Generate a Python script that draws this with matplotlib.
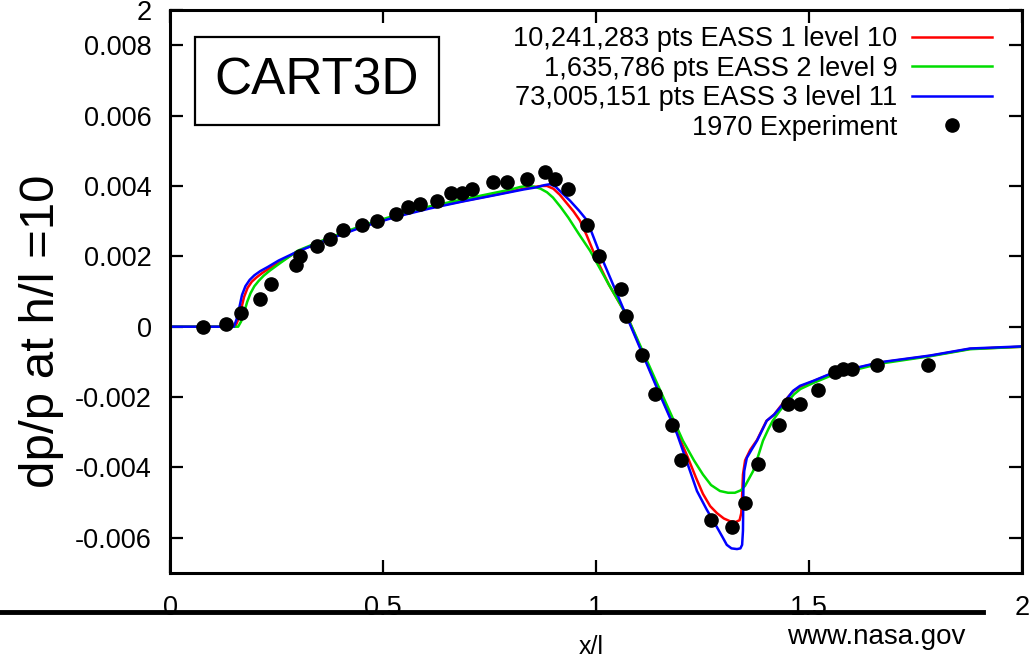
import matplotlib
matplotlib.use("Agg")
import matplotlib.pyplot as plt
from matplotlib.lines import Line2D

plt.rcParams['font.family'] = ['Liberation Sans', 'DejaVu Sans']

# CART3D runs (pressure signature at h/l = 10)
x_red = [0, 0.153, 0.16, 0.167, 0.174, 0.182, 0.192, 0.203, 0.217, 0.235, 0.26, 0.3,
         0.376, 0.453, 0.533, 0.61, 0.688, 0.768, 0.83, 0.855, 0.872, 0.885, 0.9,
         0.915, 0.932, 0.947, 0.962, 0.978, 0.993, 1.01, 1.03, 1.073, 1.143, 1.19,
         1.215, 1.235, 1.251, 1.268, 1.284, 1.3, 1.315, 1.328, 1.337, 1.341, 1.343,
         1.345, 1.35, 1.362, 1.378, 1.40, 1.418, 1.432, 1.448, 1.463, 1.48, 1.51,
         1.55, 1.667, 1.784, 1.878, 2.0]
y_red = [0, 0, 0.0002, 0.0005, 0.00085, 0.0011, 0.00128, 0.0014, 0.00153, 0.00167,
         0.00185, 0.00214, 0.00252, 0.00286, 0.00315, 0.00338, 0.00357, 0.00376,
         0.00392, 0.00397, 0.004, 0.004, 0.00392, 0.00375, 0.0035, 0.00328, 0.00302,
         0.0026, 0.00216, 0.0017, 0.0012, 0.0003, -0.0017, -0.0030, -0.0037, -0.0043,
         -0.00475, -0.0051, -0.0053, -0.00545, -0.00553, -0.00555, -0.0055, -0.0053,
         -0.0048, -0.0042, -0.0038, -0.0035, -0.00322, -0.00268, -0.0025, -0.00228,
         -0.00204, -0.00183, -0.0017, -0.00155, -0.00135, -0.00102, -0.00083, -0.00063,
         -0.00057]

x_green = [0, 0.16, 0.167, 0.174, 0.181, 0.189, 0.198, 0.208, 0.22, 0.235, 0.26, 0.3,
           0.376, 0.453, 0.533, 0.61, 0.688, 0.768, 0.8, 0.822, 0.838, 0.855, 0.87,
           0.885, 0.899, 0.917, 0.935, 0.96, 0.986, 1.03, 1.073, 1.143, 1.204, 1.23,
           1.251, 1.27, 1.291, 1.31, 1.326, 1.34, 1.35, 1.36, 1.369, 1.38, 1.392,
           1.405, 1.415, 1.432, 1.448, 1.465, 1.48, 1.51, 1.55, 1.667, 1.784, 1.878,
           2.0]
y_green = [0, 0, 0.00015, 0.0004, 0.0007, 0.00095, 0.00115, 0.0013, 0.00145, 0.0016,
           0.00182, 0.00216, 0.00254, 0.00288, 0.00318, 0.00342, 0.00362, 0.00382,
           0.0039, 0.00397, 0.004, 0.00398, 0.00392, 0.00382, 0.00367, 0.0034, 0.0031,
           0.00263, 0.00216, 0.0012, 0.0003, -0.0016, -0.00324, -0.0038, -0.0042,
           -0.0045, -0.00467, -0.00472, -0.00472, -0.00465, -0.00452, -0.0043, -0.0041,
           -0.0037, -0.00324, -0.0029, -0.00267, -0.00238, -0.00215, -0.00192, -0.00177,
           -0.0016, -0.0014, -0.00105, -0.00084, -0.00064, -0.00057]

x_blue = [0, 0.15, 0.156, 0.162, 0.169, 0.177, 0.187, 0.198, 0.212, 0.23, 0.255, 0.3,
          0.376, 0.453, 0.533, 0.61, 0.688, 0.768, 0.83, 0.86, 0.878, 0.892, 0.905,
          0.92, 0.939, 0.96, 0.979, 1.009, 1.04, 1.073, 1.143, 1.19, 1.215, 1.237,
          1.26, 1.284, 1.297, 1.307, 1.318, 1.331, 1.339, 1.343, 1.345, 1.346, 1.348,
          1.354, 1.365, 1.378, 1.401, 1.418, 1.432, 1.448, 1.463, 1.479, 1.51, 1.55,
          1.667, 1.784, 1.878, 2.0]
y_blue = [0, 0, 0.0002, 0.0005, 0.0009, 0.00115, 0.00133, 0.00146, 0.00158, 0.0017,
          0.00188, 0.00214, 0.0025, 0.00284, 0.00313, 0.00336, 0.00356, 0.00375, 0.0039,
          0.00396, 0.00402, 0.00405, 0.00398, 0.0038, 0.00358, 0.0033, 0.00302, 0.00208,
          0.0012, 0.00026, -0.00174, -0.00304, -0.0039, -0.00467, -0.0052, -0.0057,
          -0.00598, -0.0062, -0.0063, -0.00632, -0.0063, -0.0062, -0.0058, -0.0046,
          -0.0041, -0.00373, -0.0035, -0.00324, -0.00267, -0.0025, -0.0023, -0.00205,
          -0.00182, -0.00168, -0.00154, -0.00134, -0.00101, -0.00082, -0.00062,
          -0.00056]

# 1970 wind tunnel measurements
x_exp = [0.077, 0.131, 0.167, 0.211, 0.237, 0.296, 0.305, 0.345, 0.376, 0.406, 0.451,
         0.486, 0.531, 0.559, 0.587, 0.627, 0.66, 0.685, 0.709, 0.758, 0.791, 0.838,
         0.880, 0.904, 0.934, 0.979, 1.007, 1.059, 1.07, 1.108, 1.138, 1.178, 1.2,
         1.27, 1.319, 1.35, 1.38, 1.43, 1.45, 1.48, 1.52, 1.56, 1.58, 1.60, 1.66, 1.78]
y_exp = [0, 0.00009, 0.0004, 0.0008, 0.0012, 0.00174, 0.002, 0.0023, 0.0025, 0.00276,
         0.0029, 0.0030, 0.0032, 0.0034, 0.0035, 0.00356, 0.0038, 0.0038, 0.0039,
         0.0041, 0.0041, 0.0042, 0.0044, 0.0042, 0.0039, 0.0029, 0.002, 0.00108,
         0.0003, -0.0008, -0.0019, -0.0028, -0.0038, -0.0055, -0.0057, -0.005,
         -0.0039, -0.0028, -0.0022, -0.0022, -0.0018, -0.0013, -0.0012, -0.0012,
         -0.0011, -0.0011]

labels = ['10,241,283 pts EASS 1 level 10',
          '1,635,786 pts EASS 2 level 9',
          '73,005,151 pts EASS 3 level 11',
          '1970 Experiment']

xticks = [0, 0.5, 1, 1.5, 2]
xtick_labels = ['0', '0.5', '1', '1.5', '2']
yticks = [-0.006, -0.004, -0.002, 0, 0.002, 0.004, 0.006, 0.008, 0.009]
ytick_labels = ['-0.006', '-0.004', '-0.002', '0', '0.002', '0.004', '0.006', '0.008', '2']

fs = 19.5

fig = plt.figure(figsize=(10.33, 6.59), dpi=100)
ax = fig.add_axes([170 / 1033, 1 - 573 / 659, 852 / 1033, 563 / 659])

l1, = ax.plot(x_red, y_red, color='#ff0000', lw=1.8)
l2, = ax.plot(x_green, y_green, color='#00dd00', lw=1.8)
l3, = ax.plot(x_blue, y_blue, color='#0000ff', lw=1.8)
pts, = ax.plot(x_exp, y_exp, 'o', color='black', ms=9.5, zorder=5)

ax.set_xlim(0, 2)
ax.set_ylim(-0.007, 0.009)
ax.set_xticks(xticks)
ax.set_xticklabels(xtick_labels)
ax.set_yticks(yticks)
ax.set_yticklabels(ytick_labels)
ax.tick_params(axis='both', direction='in', length=9.5, width=1.6,
               top=True, right=True, labelsize=fs)
ax.tick_params(axis='x', pad=15.5)
ax.tick_params(axis='y', pad=13)
for s in ax.spines.values():
    s.set_linewidth(2.2)

fig.text(42 / 1033, 1 - 331 / 659, 'dp/p at h/l =10', rotation=90,
         ha='center', va='center', fontsize=35.5)

ax.text((317 - 170) / 852, (573 - 81) / 563, 'CART3D', transform=ax.transAxes,
        ha='center', va='center', fontsize=37,
        bbox=dict(boxstyle='square,pad=0.38', fc='white', ec='black', lw=1.6))

leg = ax.legend([l1, l2, l3, pts], labels, loc='upper right',
                bbox_to_anchor=(992 / 1033, 1 - 26 / 659),
                bbox_transform=fig.transFigure, frameon=False, markerfirst=False,
                fontsize=fs, handlelength=2.95, handletextpad=0.55,
                labelspacing=0.13, borderpad=0, borderaxespad=0, numpoints=1)
for col in leg._legend_handle_box.get_children():
    col.align = 'right'

# thick rule under the axis, drawn over the tick labels
fig.add_artist(Line2D([0, 983 / 1033], [1 - 611.5 / 659, 1 - 611.5 / 659],
                      transform=fig.transFigure, color='black', lw=3.5, zorder=10))

fig.text(591 / 1033, 1 - 647 / 659, 'x/l', ha='center', va='center', fontsize=18)
fig.text(876 / 1033, 1 - 637 / 659, 'www.nasa.gov', ha='center', va='center',
         fontsize=20)

fig.savefig('out.png', dpi=100)
